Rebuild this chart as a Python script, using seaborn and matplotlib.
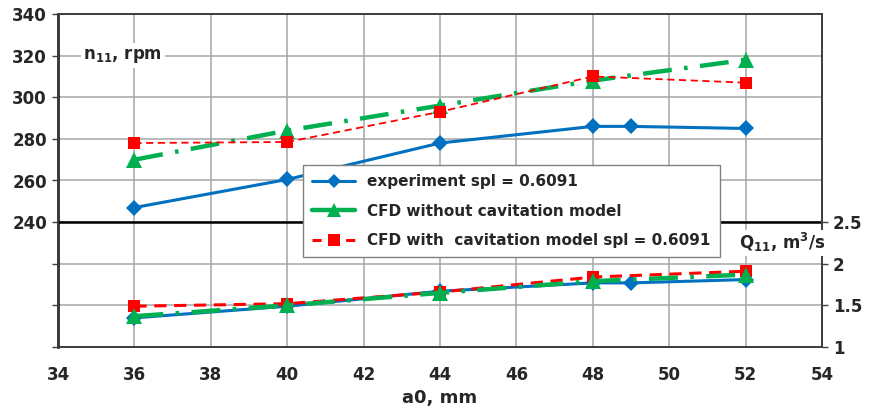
import matplotlib
matplotlib.use("Agg")
import matplotlib.pyplot as plt
import seaborn as sns
import pandas as pd
from matplotlib.lines import Line2D

# ---- data ----
a0_exp = [36, 40, 44, 48, 49, 52]
n11_exp = [247, 260.5, 278, 286, 286, 285]
q11_exp = [1.35, 1.49, 1.67, 1.77, 1.77, 1.81]

a0_cfd = [36, 40, 44, 48, 52]
n11_nocav = [270, 284, 296, 308, 318]
q11_nocav = [1.37, 1.50, 1.65, 1.79, 1.87]
n11_cav = [278, 278.5, 293, 310, 307]
q11_cav = [1.49, 1.52, 1.66, 1.84, 1.91]

labels = ["experiment spl = 0.6091",
          "CFD without cavitation model",
          "CFD with  cavitation model spl = 0.6091"]

left_ticks = [180, 200, 220, 240, 260, 280, 300, 320, 340]
right_ticks = [1, 1.5, 2, 2.5]
x_ticks = [34, 36, 38, 40, 42, 44, 46, 48, 50, 52, 54]

sns.set_style("white")
plt.rcParams['font.family'] = ['DejaVu Sans']

fig = plt.figure(figsize=(8.76, 4.15), dpi=100)
ax = fig.add_axes([58/876, 1 - 347/415, (822-58)/876, (347-14)/415])
ax2 = ax.twinx()

blue = "#0070C0"
green = "#00B050"
red = "#FF0000"

df_exp = pd.DataFrame({"a0": a0_exp, "n11": n11_exp, "q11": q11_exp})
df_cfd = pd.DataFrame({"a0": a0_cfd, "nn": n11_nocav, "qn": q11_nocav,
                       "nc": n11_cav, "qc": q11_cav})

green_ls = (0, (6.5, 2.8, 0.8, 2.8))
red_ls = (0, (4, 2.5))

# upper (n11) curves on left axis
sns.lineplot(data=df_cfd, x="a0", y="nc", ax=ax, color=red, lw=1.3, linestyle=red_ls,
             marker="s", markersize=8, markeredgewidth=0, zorder=4)
sns.lineplot(data=df_cfd, x="a0", y="nn", ax=ax, color=green, lw=3.2, linestyle=green_ls,
             marker="^", markersize=11, markeredgewidth=0, zorder=3)
sns.lineplot(data=df_exp, x="a0", y="n11", ax=ax, color=blue, lw=2.2,
             marker="D", markersize=8, markeredgewidth=0, zorder=5)

# lower (Q11) curves on right axis
sns.lineplot(data=df_cfd, x="a0", y="qc", ax=ax2, color=red, lw=2.2, linestyle=red_ls,
             marker="s", markersize=8, markeredgewidth=0, zorder=4)
sns.lineplot(data=df_exp, x="a0", y="q11", ax=ax2, color=blue, lw=2.2,
             marker="D", markersize=8, markeredgewidth=0, zorder=3)
sns.lineplot(data=df_cfd, x="a0", y="qn", ax=ax2, color=green, lw=3.2, linestyle=green_ls,
             marker="^", markersize=11, markeredgewidth=0, zorder=5)

ax.set_xlim(34, 54)
ax.set_ylim(180, 340)
ax2.set_ylim(1, 5)
ax.set_xticks(x_ticks)
ax.set_xticklabels([str(v) for v in x_ticks], fontsize=12, fontweight="bold")
ax.set_yticks(left_ticks)
ax.set_yticklabels([str(v) if v >= 240 else "" for v in left_ticks],
                   fontsize=12, fontweight="bold")
ax2.set_yticks(right_ticks)
ax2.set_yticklabels(["1", "1.5", "2", "2.5"], fontsize=12, fontweight="bold")

ax.grid(True, color="#A6A6A6", lw=1.1)
ax2.grid(False)
ax.set_axisbelow(True)
ax.tick_params(axis="both", length=4, width=1, color="#404040", pad=4, direction="out")
ax2.tick_params(axis="y", length=4, width=1, color="#404040", pad=4, direction="out")
ax.tick_params(axis="x", pad=10)

for a in (ax, ax2):
    for s in a.spines.values():
        s.set_visible(True)
        s.set_color("#404040")
        s.set_linewidth(1.3)
ax.spines["left"].set_color("black")
ax.spines["left"].set_linewidth(1.8)
ax.axhline(240, color="black", lw=1.8, zorder=2)

ax.set_xlabel("a0, mm", fontsize=13, fontweight="bold", labelpad=3)
ax.set_ylabel("")
ax2.set_ylabel("")

ax.text(35.7, 320, r"n$_{\mathbf{11}}$, rpm", fontsize=12, fontweight="bold",
        ha="center", va="center", zorder=6,
        bbox=dict(facecolor="white", edgecolor="none", pad=2))
ax2.text(52.95, 2.25, r"Q$_{\mathbf{11}}$, m$^{\mathbf{3}}$/s", fontsize=12, fontweight="bold",
         ha="center", va="center", zorder=6, clip_on=False,
         bbox=dict(facecolor="white", edgecolor="none", pad=1))

h = [Line2D([], [], color=blue, lw=2.2, marker="D", markersize=7, markeredgewidth=0),
     Line2D([], [], color=green, lw=3.2, marker="^", markersize=10, markeredgewidth=0),
     Line2D([], [], color=red, lw=2.2, linestyle=(0, (3, 2.5)), marker="s", markersize=8,
            markeredgewidth=0)]
leg = ax2.legend(h, labels, loc="upper left", bbox_to_anchor=((303-58)/764, 1 - (165-14)/333),
                 borderaxespad=0, fontsize=11, frameon=True, fancybox=False, framealpha=1,
                 edgecolor="#808080", handlelength=2.8, borderpad=0.6, labelspacing=0.95)
for t in leg.get_texts():
    t.set_fontweight("bold")
leg.get_frame().set_linewidth(1.0)
leg.set_zorder(10)

fig.savefig("out.png", dpi=100)
